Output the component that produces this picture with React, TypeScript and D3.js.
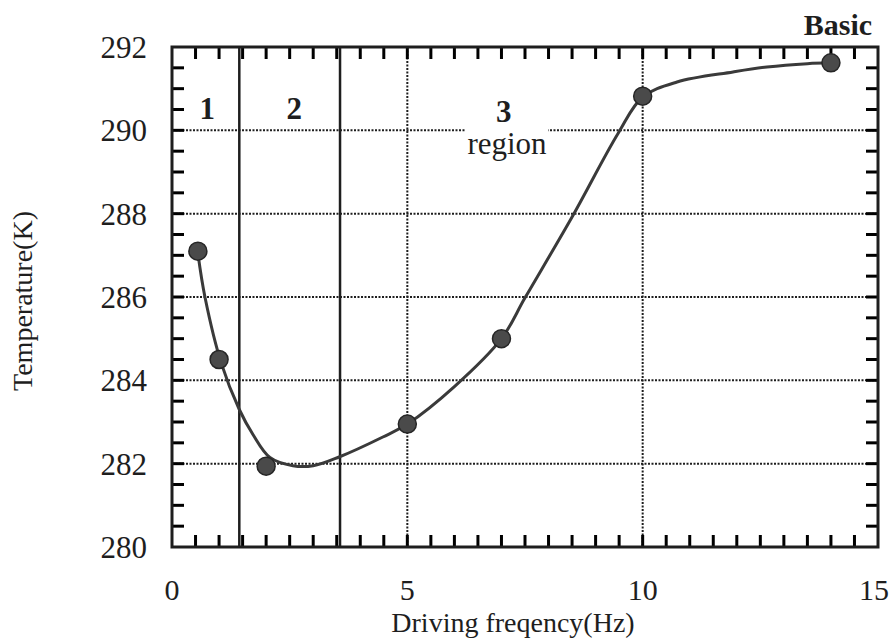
import React from "react";
import * as d3 from "d3";

const pointX = [0.55, 1.0, 2.0, 5.0, 7.0, 10.0, 14.0];
const pointY = [287.1, 284.5, 281.94, 282.95, 285.0, 290.82, 291.62];

const curveX = [0.55, 0.7, 1.05, 1.43, 1.72, 2.08, 2.57, 3.0, 3.55, 4.48, 5.0, 6.0, 7.0, 7.5, 8.5, 9.48, 10.0, 10.73, 11.92, 12.64, 13.5, 14.0];
const curveY = [287.05, 286.0, 284.4, 283.3, 282.7, 282.15, 281.95, 281.95, 282.16, 282.64, 282.95, 283.85, 285.0, 285.98, 287.92, 289.93, 290.8, 291.16, 291.4, 291.52, 291.6, 291.62];

const xTickLabels = [0, 5, 10, 15];
const yTickLabels = [280, 282, 284, 286, 288, 290, 292];
const xGrid = [5, 10];
const yGrid = [282, 284, 286, 288, 290];
const regionBounds = [1.43, 3.57];
const regionLabels = [
  { x: 0.75, label: "1" },
  { x: 2.6, label: "2" },
  { x: 7.05, label: "3" },
];

export default function App() {
  const W = 894, H = 640;
  const L = 172, R = 878, T = 47, B = 547;
  const x = d3.scaleLinear().domain([0, 15]).range([L, R]);
  const y = d3.scaleLinear().domain([280, 292]).range([B, T]);
  const font = "'Liberation Serif', 'Times New Roman', serif";
  const ink = "#1e1e1e";

  const xMinor = x.ticks(30).filter((v) => v > 0 && v < 15);
  const yMinor = y.ticks(24).filter((v) => v > 280 && v < 292);
  const tl = 12;

  const line = d3
    .line<number>()
    .x((_, i) => x(curveX[i]))
    .y((d) => y(d))
    .curve(d3.curveCatmullRom.alpha(0.5));

  return (
    <svg width={W} height={H} style={{ position: "absolute", left: 0, top: 0, background: "#fff" }}>
      <rect x={0} y={0} width={W} height={H} fill="#fff" />
      {yGrid.map((v) => (
        <line key={"yg" + v} x1={L} x2={R} y1={y(v)} y2={y(v)} stroke={ink} strokeWidth={2} strokeDasharray="2,1.5" />
      ))}
      {xGrid.map((v) => (
        <line key={"xg" + v} x1={x(v)} x2={x(v)} y1={T} y2={B} stroke={ink} strokeWidth={2} strokeDasharray="2,1.5" />
      ))}
      {regionBounds.map((v) => (
        <line key={"rb" + v} x1={x(v)} x2={x(v)} y1={T} y2={B} stroke={ink} strokeWidth={2.5} />
      ))}
      <g stroke="#000000" strokeWidth={3}>
        {xMinor.map((v) => (
          <line key={"xb" + v} x1={x(v)} x2={x(v)} y1={B} y2={B - tl} />
        ))}
        {xMinor.map((v) => (
          <line key={"xt" + v} x1={x(v)} x2={x(v)} y1={T} y2={T + tl} />
        ))}
        {yMinor.map((v) => (
          <line key={"yl" + v} x1={L} x2={L + tl} y1={y(v)} y2={y(v)} />
        ))}
        {yMinor.map((v) => (
          <line key={"yr" + v} x1={R} x2={R - tl} y1={y(v)} y2={y(v)} />
        ))}
      </g>
      <rect x={L} y={T} width={R - L} height={B - T} fill="none" stroke={ink} strokeWidth={3} />
      <rect x={465} y={y(290) - 6} width={83} height={14} fill="#fff" />
      {regionLabels.map((r, i) => (
        <text key={"rl" + i} x={x(r.x)} y={i === 2 ? 122 : 119} textAnchor="middle" fontFamily={font} fontWeight="bold" fontSize={31} fill={ink}>
          {r.label}
        </text>
      ))}
      <text x={507} y={154} textAnchor="middle" fontFamily={font} fontSize={31} fill={ink}>
        region
      </text>
      <path d={line(curveY) || ""} fill="none" stroke="#3a3a3a" strokeWidth={3} strokeLinejoin="round" />
      {pointX.map((v, i) => (
        <circle key={"p" + i} cx={x(v)} cy={y(pointY[i])} r={9} fill="#4a4a4a" stroke="#262626" strokeWidth={1.5} />
      ))}
      {xTickLabels.map((v) => (
        <text key={"xl" + v} x={x(v) - (v === 15 ? 4 : 0)} y={600} textAnchor="middle" fontFamily={font} fontSize={30} fill={ink}>
          {v}
        </text>
      ))}
      {yTickLabels.map((v) => (
        <text key={"ylab" + v} x={147} y={y(v)} dy="0.35em" textAnchor="end" fontFamily={font} fontSize={31} fill={ink}>
          {v}
        </text>
      ))}
      <text x={513} y={632} textAnchor="middle" fontFamily={font} fontSize={28} fill={ink}>
        Driving freqency(Hz)
      </text>
      <text transform={`translate(32,301) rotate(-90)`} textAnchor="middle" fontFamily={font} fontSize={28} fill={ink}>
        Temperature(K)
      </text>
      <text x={838} y={35} textAnchor="middle" fontFamily={font} fontWeight="bold" fontSize={30} fill={ink}>
        Basic
      </text>
    </svg>
  );
}
